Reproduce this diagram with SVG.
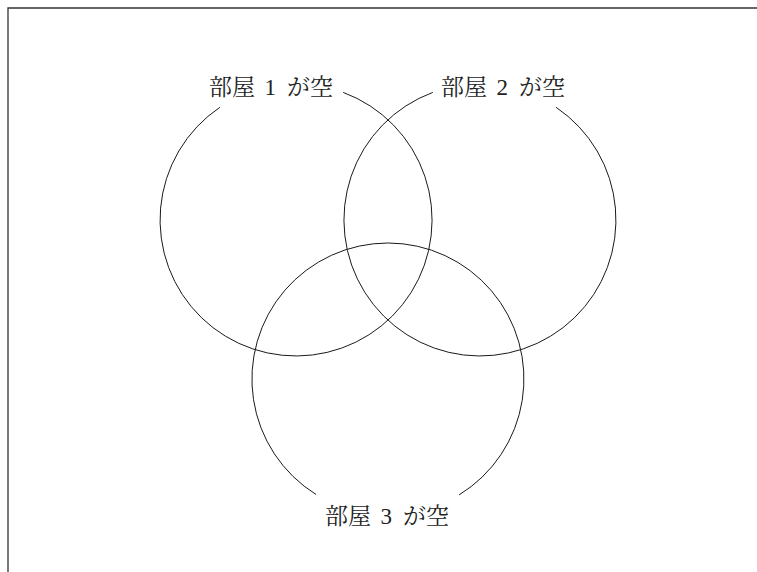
<svg xmlns="http://www.w3.org/2000/svg" width="757" height="572" viewBox="0 0 757 572">
<style>
.c{fill:none;stroke:#1a1a1a;stroke-width:1}
.lbl{font-family:"Noto Serif CJK JP","Noto Sans CJK JP",serif;font-size:23px;fill:#222}
.d{font-family:"Liberation Serif","Noto Sans CJK JP",serif}
</style>
<rect width="757" height="572" fill="#fff"/>
<path d="M8,572 V8 H757" fill="none" stroke="#333" stroke-width="1.3"/>
<g id="connectors">
<path id="circle1" class="c" d="M343.2,92.4 A136,136 0 1 1 219.9,107.3"/>
<path id="circle2" class="c" d="M556.1,107.3 A136,136 0 1 1 432.8,92.4"/>
<path id="circle3" class="c" d="M316.1,494.5 A136,136 0 1 1 459.1,494.9"/>
</g>
<g id="label1"><text class="lbl" x="209" y="95">部屋<tspan class="d" x="264.5">1</tspan><tspan x="287">が空</tspan></text></g>
<g id="label2"><text class="lbl" x="441" y="95">部屋<tspan class="d" x="496.5">2</tspan><tspan x="519">が空</tspan></text></g>
<g id="label3"><text class="lbl" x="325" y="524">部屋<tspan class="d" x="380.5">3</tspan><tspan x="403">が空</tspan></text></g>
</svg>
